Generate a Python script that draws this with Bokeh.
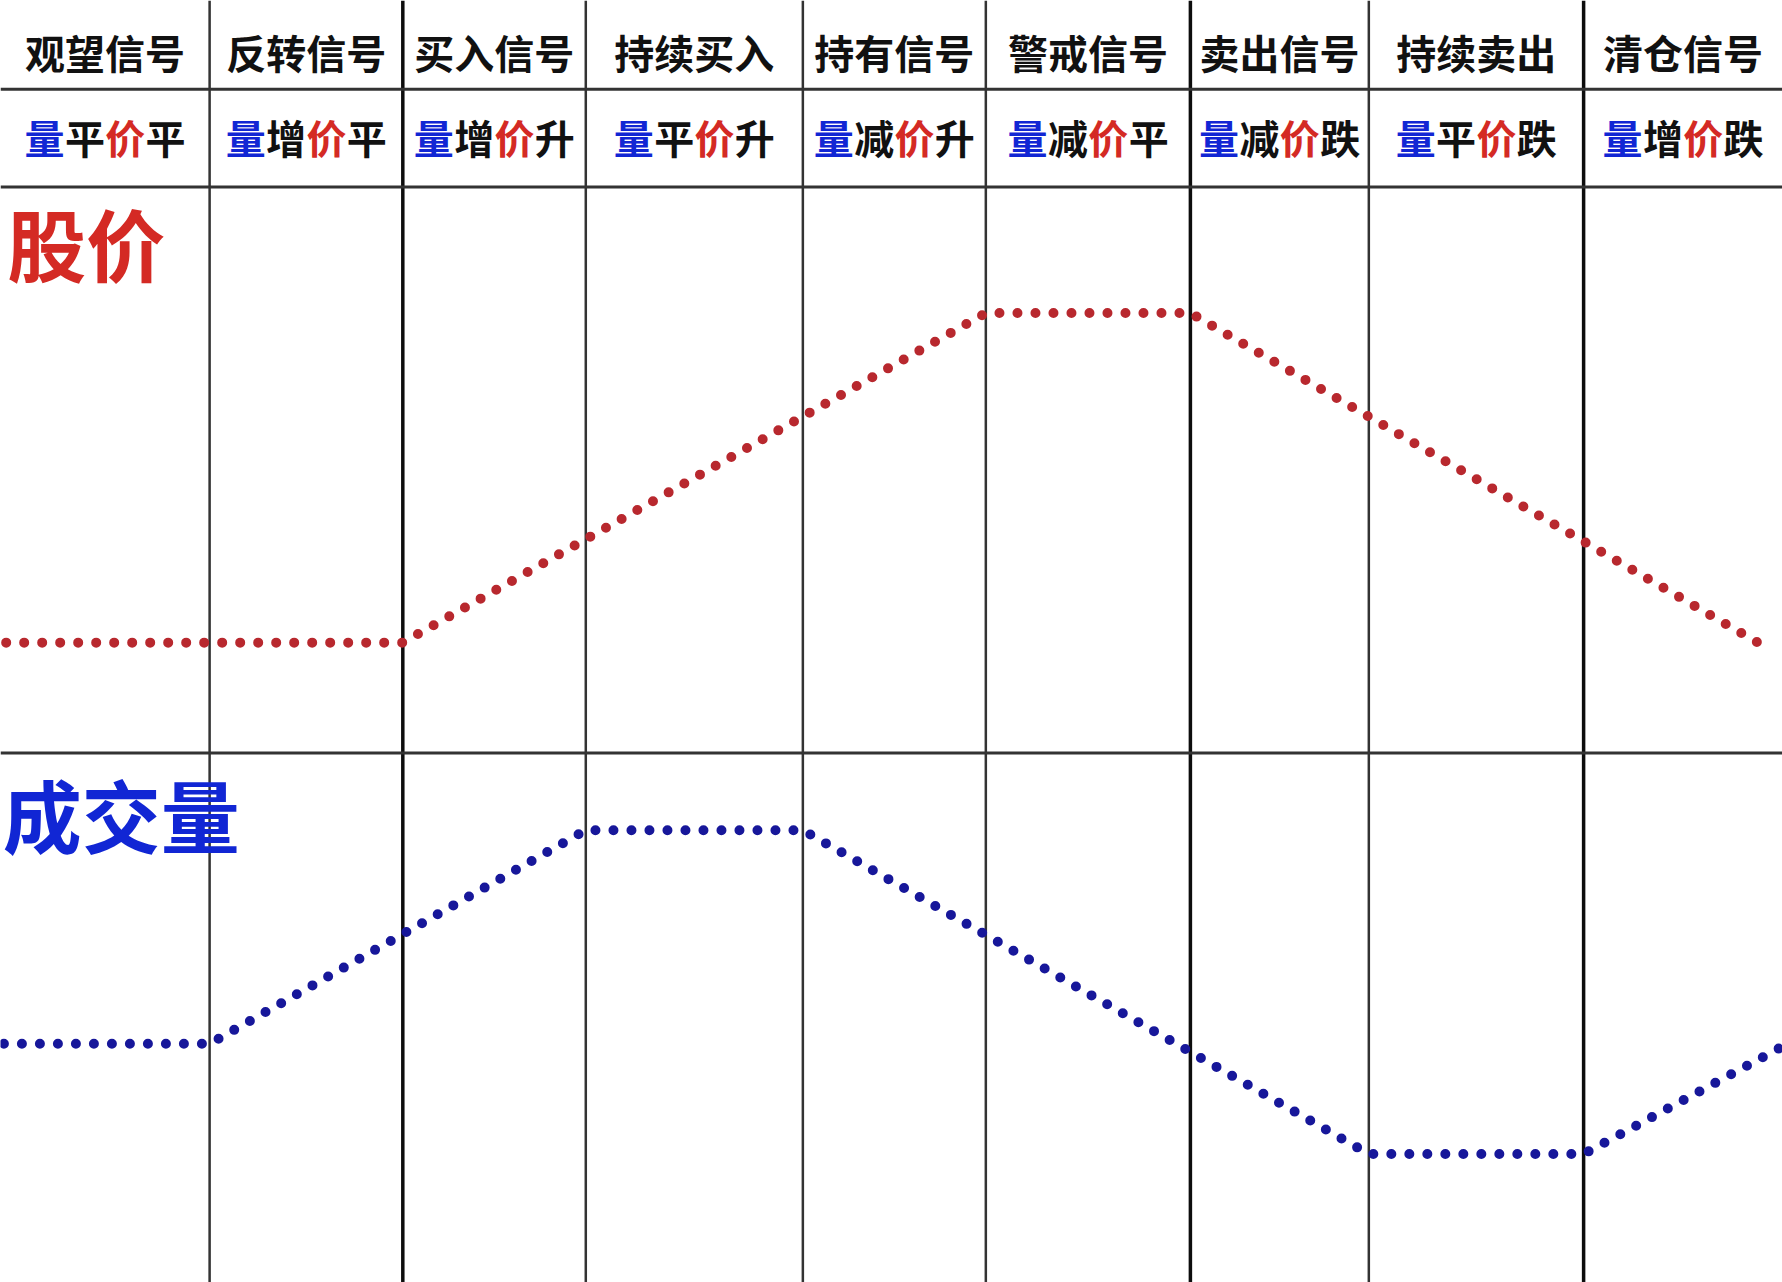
from bokeh.plotting import figure
from bokeh.models import Range1d
from bokeh.core.properties import value
from bokeh.embed import file_html
from bokeh.resources import INLINE

# ---- data (units of the reference grid, y measured upward) ----
col_edges = [0, 184, 354, 515, 706, 867, 1047, 1204, 1393, 1568]
strong_edges = [354, 1047, 1393]
row_lines = [1050, 964, 466]

signals = ["观望信号", "反转信号", "买入信号", "持续买入", "持有信号",
           "警戒信号", "卖出信号", "持续卖出", "清仓信号"]
vol_state = ["平", "增", "增", "平", "减", "减", "减", "平", "增"]
price_state = ["平", "平", "升", "升", "升", "平", "跌", "跌", "跌"]

price_x = [5, 354, 867, 1047, 1548]
price_y = [563, 563, 853, 853, 562]

volume_x = [3, 184, 515, 706, 1204, 1393, 1565]
volume_y = [210, 210, 398, 398, 113, 113, 206]

FONT = "Noto Sans CJK SC"
RED_T = "#d42a24"
BLUE_T = "#1126d4"
RED_D = "#b8282e"
BLUE_D = "#17179a"

p = figure(width=1782, height=1282, x_range=Range1d(0, 1568), y_range=Range1d(0, 1128),
           x_axis_type=None, y_axis_type=None, output_backend="svg",
           toolbar_location=None, min_border=0, outline_line_color=None,
           background_fill_color="white", border_fill_color="white")
p.grid.visible = False

# grid lines
normal = [e for e in col_edges[1:-1] if e not in strong_edges]
p.segment(x0=normal, y0=[0] * len(normal), x1=normal, y1=[1128] * len(normal),
          line_color="#333333", line_width=2.5)
p.segment(x0=strong_edges, y0=[0] * len(strong_edges), x1=strong_edges,
          y1=[1128] * len(strong_edges), line_color="#0d0d0d", line_width=3.5)
p.segment(x0=[0] * len(row_lines), y0=row_lines, x1=[1568] * len(row_lines), y1=row_lines,
          line_color="#333333", line_width=3)

# header text
centers = [(col_edges[i] + col_edges[i + 1]) / 2 for i in range(len(signals))]
p.text(x=centers, y=[1083] * len(centers), text=signals,
       text_font=value(FONT), text_font_style="bold", text_font_size="40px",
       text_align="center", text_baseline="middle", text_color="#111111")

step = 35.5
xs, txt, cols = [], [], []
for c, v, pr in zip(centers, vol_state, price_state):
    for k, (ch, colr) in enumerate([("量", BLUE_T), (v, "#111111"), ("价", RED_T), (pr, "#111111")]):
        xs.append(c + (k - 1.5) * step)
        txt.append(ch)
        cols.append(colr)
p.text(x=xs, y=[1008] * len(xs), text=txt, text_color=cols,
       text_font=value(FONT), text_font_style="bold", text_font_size="40px",
       text_align="center", text_baseline="middle")

# panel titles
p.text(x=[6], y=[915], text=["股价"], text_color=RED_T, text_font=value(FONT),
       text_font_style="bold", text_font_size="79px", text_align="left", text_baseline="middle")
p.text(x=[2], y=[413], text=["成交量"], text_color=BLUE_T, text_font=value(FONT),
       text_font_style="bold", text_font_size="79px", text_align="left", text_baseline="middle")

# dotted series
p.line(price_x, price_y, line_color=RED_D, line_width=10, line_dash="0 18", line_cap="round")
p.line(volume_x, volume_y, line_color=BLUE_D, line_width=10, line_dash="0 18", line_cap="round")

open("out.html", "w").write(file_html(p, INLINE))
